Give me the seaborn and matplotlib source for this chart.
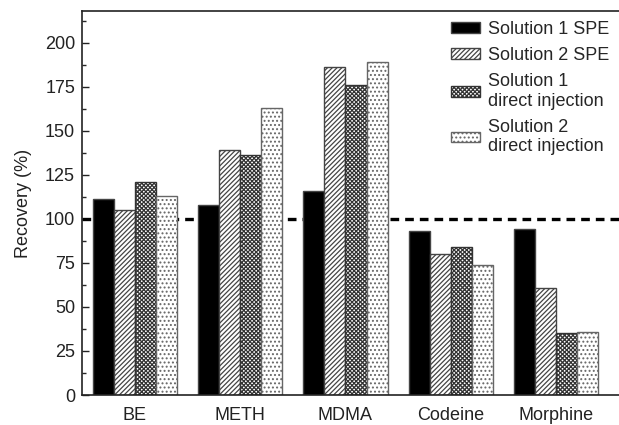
import matplotlib
matplotlib.use("Agg")
import matplotlib.pyplot as plt
import matplotlib.patches as mpatches
import pandas as pd
import seaborn as sns

sns.set_theme(style="white")
plt.rcParams["font.family"] = ["Liberation Sans", "DejaVu Sans"]
plt.rcParams["hatch.linewidth"] = 0.9

compounds = ["BE", "METH", "MDMA", "Codeine", "Morphine"]
series = ["Solution 1 SPE", "Solution 2 SPE",
          "Solution 1\ndirect injection", "Solution 2\ndirect injection"]
sol1_spe = [111, 108, 116, 93, 94]
sol2_spe = [105, 139, 186, 80, 61]
sol1_direct = [121, 136, 176, 84, 35]
sol2_direct = [113, 163, 189, 74, 36]

rows = []
for name, vals in zip(series, [sol1_spe, sol2_spe, sol1_direct, sol2_direct]):
    for c, v in zip(compounds, vals):
        rows.append({"compound": c, "series": name, "recovery": v})
df = pd.DataFrame(rows)

fig = plt.figure(figsize=(6.19, 4.25), dpi=100)
ax = fig.add_axes([82 / 619, 30 / 425, 1 - 82 / 619, 384 / 425])

sns.barplot(data=df, x="compound", y="recovery", hue="series",
            hue_order=series, order=compounds, width=0.8, gap=0,
            palette=["black", "white", "white", "white"],
            edgecolor="#444444", linewidth=1.0, legend=False, ax=ax, zorder=2)

hatches = [None, "///////", "xxxxxxxx", "...."]
faces = ["black", "white", "white", "white"]
hcolors = ["#444444", "#444444", "#333333", "#666666"]
for cont, h, fc, hc in zip(ax.containers, hatches, faces, hcolors):
    for p in cont:
        p.set_facecolor(fc)
        p.set_edgecolor(hc)
        if h:
            p.set_hatch(h)

# 100 % reference line, drawn behind the bars
ax.axhline(100, color="black", lw=2.4, ls=(0, (2.6, 1.8)), zorder=1)

ax.set_xlim(-0.5, 4.595)
ax.set_ylim(0, 218)
ax.set_yticks(range(0, 201, 25))
ax.set_yticks([12.5 + 25 * i for i in range(9)], minor=True)
ax.tick_params(axis="y", which="major", direction="in", length=5, width=1,
               left=True, labelsize=13, colors="#222222", pad=5)
ax.tick_params(axis="y", which="minor", direction="in", length=3, width=1, left=True)
ax.tick_params(axis="x", length=0, labelsize=13, pad=9, colors="#222222")
ax.set_xlabel("")
ax.set_ylabel("Recovery (%)", fontsize=13, color="#222222", labelpad=9)

for s in ["left", "bottom", "top"]:
    ax.spines[s].set_color("#222222")
    ax.spines[s].set_linewidth(1.2)
ax.spines["right"].set_visible(False)

handles = []
for name, h, fc, hc in zip(series, hatches, faces, hcolors):
    handles.append(mpatches.Patch(facecolor=fc, edgecolor=hc, hatch=h, label=name))
ax.legend(handles=handles, loc="upper right", frameon=False, fontsize=13,
          handlelength=1.6, handleheight=0.5, handletextpad=0.45,
          labelspacing=0.5, borderaxespad=0.15, bbox_to_anchor=(1.0, 1.0))

fig.savefig("out.png", dpi=100)
